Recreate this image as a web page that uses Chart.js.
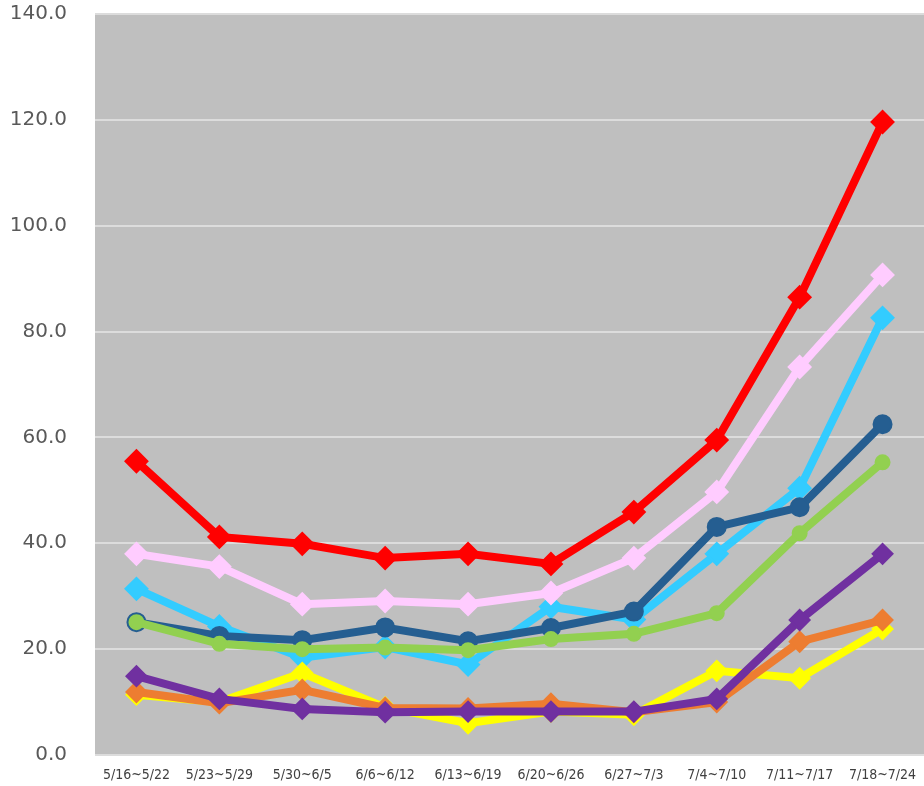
<!DOCTYPE html>
<html>
<head>
<meta charset="utf-8">
<script src="https://cdn.jsdelivr.net/npm/chart.js@4/dist/chart.umd.min.js"></script>
<style>
  html, body { margin: 0; padding: 0; background: #fff; overflow: hidden; }
  #wrap { width: 924px; height: 786px; }
</style>
</head>
<body>
<div id="wrap"><canvas id="weekly-chart"></canvas></div>
<script>
const weeks = ['5/16~5/22', '5/23~5/29', '5/30~6/5', '6/6~6/12', '6/13~6/19',
    '6/20~6/26', '6/27~7/3', '7/4~7/10', '7/11~7/17', '7/18~7/24'];
const yTicks = [0, 20, 40, 60, 80, 100, 120, 140];

const redValues = [55.5, 41.2, 39.9, 37.2, 38.0, 36.1, 45.9, 59.5, 86.5, 119.6];
const pinkValues = [38.0, 35.6, 28.5, 29.1, 28.5, 30.6, 37.2, 49.7, 73.3, 90.7];
const purpleValues = [14.9, 10.6, 8.7, 8.1, 8.2, 8.2, 8.2, 10.6, 25.5, 38.0];
const orangeValues = [11.9, 9.8, 12.3, 8.9, 8.8, 9.7, 8.1, 10.0, 21.4, 25.5];
const yellowValues = [11.4, 10.0, 15.5, 9.0, 6.0, 8.2, 7.6, 15.9, 14.5, 23.8];
const greenValues = [25.1, 21.0, 20.0, 20.3, 19.8, 21.9, 22.9, 26.8, 41.9, 55.3];
const darkBlueValues = [25.1, 22.5, 21.7, 24.1, 21.5, 24.0, 27.1, 43.1, 46.8, 62.5];
const lightBlueValues = [31.4, 24.3, 18.4, 20.4, 17.1, 28.0, 25.6, 38.0, 50.4, 82.6];

function series(values, color, pointStyle, radius) {
    return {
        data: values,
        borderColor: color,
        backgroundColor: color,
        borderWidth: 8,
        pointStyle: pointStyle,
        pointRadius: radius,
        pointHoverRadius: radius,
        pointBorderWidth: 2,
        pointBorderColor: color,
        pointBackgroundColor: color,
        tension: 0
    };
}

// plot area background
const plotBackground = {
    id: 'plotBackground',
    beforeDraw(chart) {
        const { ctx, chartArea } = chart;
        ctx.save();
        ctx.fillStyle = '#bfbfbf';
        ctx.fillRect(chartArea.left, chartArea.top,
            chartArea.right - chartArea.left, chartArea.bottom - chartArea.top);
        ctx.restore();
    }
};

// first dataset is drawn on top
const data = {
    labels: weeks,
    datasets: [
        series(redValues, '#ff0000', 'rectRot', 11),
        series(pinkValues, '#ffccff', 'rectRot', 11),
        series(purpleValues, '#7030a0', 'rectRot', 10),
        series(orangeValues, '#ed7d31', 'rectRot', 10),
        series(yellowValues, '#ffff00', 'rectRot', 10),
        series(greenValues, '#92d050', 'circle', 7),
        series(darkBlueValues, '#255e91', 'circle', 9),
        series(lightBlueValues, '#33ccff', 'rectRot', 11)
    ]
};

const options = {
    responsive: true,
    maintainAspectRatio: false,
    animation: false,
    layout: { padding: 0, autoPadding: false },
    plugins: {
        legend: { display: false },
        tooltip: { enabled: false }
    },
    scales: {
        x: {
            offset: true,
            grid: { display: true, drawOnChartArea: false, color: 'rgba(0,0,0,0)', tickLength: 12 },
            border: { display: false },
            ticks: {
                autoSkip: false,
                maxRotation: 0,
                minRotation: 0,
                padding: 0,
                color: '#404040',
                font: { family: 'DejaVu Sans Condensed, DejaVu Sans', size: 14 }
            },
            afterFit(scale) {
                scale.height = 31;
                scale.paddingLeft = 0;
                scale.paddingRight = 0;
            }
        },
        y: {
            min: 0,
            max: 140,
            afterBuildTicks(scale) {
                scale.ticks = yTicks.map(v => ({ value: v }));
            },
            grid: { color: '#dcdcdc', lineWidth: 2, drawTicks: false },
            border: { display: false },
            ticks: {
                padding: 28,
                color: '#595959',
                font: { family: 'DejaVu Sans', size: 20 },
                callback: v => v.toFixed(1)
            },
            afterFit(scale) {
                scale.width = 95;
                scale.paddingTop = 14;
                scale.paddingBottom = 0;
            }
        }
    }
};

new Chart(document.querySelector('#weekly-chart'), {
    type: 'line',
    data,
    options,
    plugins: [plotBackground]
});
</script>
</body>
</html>
